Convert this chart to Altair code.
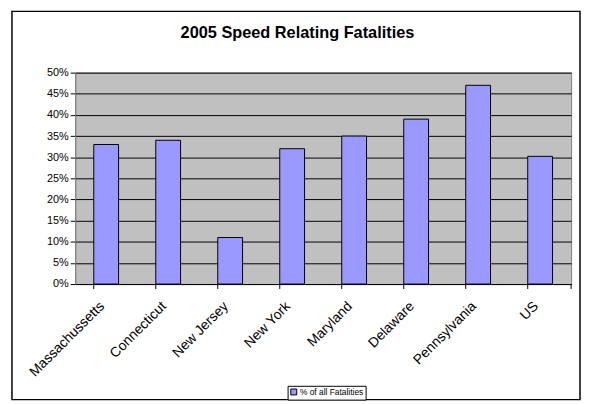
import altair as alt
import pandas as pd

states = ["Massachussetts", "Connecticut", "New Jersey", "New York",
          "Maryland", "Delaware", "Pennsylvania", "US"]
values = [0.33, 0.34, 0.11, 0.32, 0.35, 0.39, 0.47, 0.302]
series_name = "% of all Fatalities"
y_ticks = [0, 0.05, 0.10, 0.15, 0.20, 0.25, 0.30, 0.35, 0.40, 0.45, 0.50]
title_text = "2005 Speed Relating Fatalities"

df = pd.DataFrame({"state": states, "value": values,
                   "series": [series_name] * len(states)})

FONT = "Liberation Sans"
W, H = 502, 214

xscale = alt.Scale(domain=states, paddingInner=0.6, paddingOuter=0.3)
yscale = alt.Scale(domain=[0, 0.5], nice=False)

one = pd.DataFrame({"a": [0]})

frame = alt.Chart(one).mark_rect(
    fillOpacity=0, stroke="black", strokeWidth=1.5
).encode(
    x=alt.value(-64), x2=alt.value(511),
    y=alt.value(-62), y2=alt.value(331)
)

title = alt.Chart(one).mark_text(
    font=FONT, fontSize=16.5, fontWeight="bold", color="black",
    align="center", baseline="middle"
).encode(x=alt.value(225), y=alt.value(-40), text=alt.value(title_text))

bars = alt.Chart(df).mark_bar(stroke="black", strokeWidth=1).encode(
    x=alt.X("state:N", scale=xscale, sort=states,
            axis=alt.Axis(title=None, labelAngle=-45, ticks=False,
                          domainColor="black", labelFont=FONT,
                          labelFontSize=14, labelColor="black",
                          labelPadding=20, labelOffset=-4,
                          labelAlign="right", labelBaseline="middle")),
    y=alt.Y("value:Q", scale=yscale,
            axis=alt.Axis(title=None, values=y_ticks, format=".0%",
                          grid=True, gridColor="black", gridWidth=1,
                          tickColor="black", tickSize=5,
                          domainColor="#808080", labelFont=FONT,
                          labelFontSize=11, labelColor="black",
                          labelPadding=2)),
    color=alt.Color("series:N", scale=alt.Scale(range=["#9999FF"]),
                    legend=alt.Legend(title=None, orient="none",
                                      legendX=215, legendY=317,
                                      symbolType="square", symbolSize=36,
                                      symbolStrokeColor="black",
                                      symbolStrokeWidth=1,
                                      labelFont=FONT, labelFontSize=8.5,
                                      labelColor="black", labelOffset=2,
                                      padding=2, strokeColor="black",
                                      fillColor="white"))
)

ticks = alt.Chart(df).mark_rule(color="black").encode(
    x=alt.X("state:N", scale=xscale, sort=states, bandPosition=0),
    y=alt.value(H), y2=alt.value(H + 5)
)

end_tick = alt.Chart(one).mark_rule(color="black").encode(
    x=alt.value(W), y=alt.value(H), y2=alt.value(H + 5)
)

chart = alt.layer(frame, title, bars, ticks, end_tick).properties(
    width=W, height=H,
    padding={"left": 68, "top": 63, "right": 10, "bottom": 118},
    autosize=alt.AutoSizeParams(type="none"),
    background="white"
).configure_view(fill="#C0C0C0", stroke="#808080")

chart.save("out.html", embed_options={"renderer": "svg", "actions": False})
